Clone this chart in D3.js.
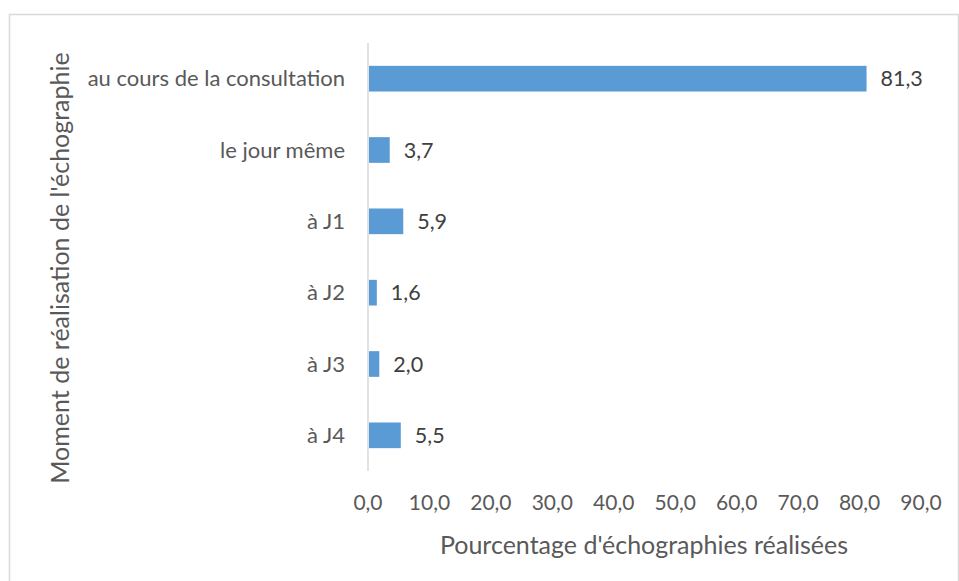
<!DOCTYPE html>
<html><head><meta charset="utf-8">
<script src="https://cdn.jsdelivr.net/npm/d3@7"></script>
<style>body{margin:0;background:#fff;} svg{display:block;font-family:Lato,"Open Sans",sans-serif;}</style>
</head><body>
<script>
const categories = ["au cours de la consultation","le jour même","à J1","à J2","à J3","à J4"];
const values = [81.3, 3.7, 5.9, 1.6, 2.0, 5.5];
const xTicks = [0,10,20,30,40,50,60,70,80,90];
const xTitle = "Pourcentage d'échographies réalisées";
const yTitle = "Moment de réalisation de l'échographie";

const W = 959, H = 581;
const svg = d3.select("body").append("svg").attr("width", W).attr("height", H);
svg.append("rect").attr("x",9.5).attr("y",14.5).attr("width",949).attr("height",620)
  .attr("fill","#fff").attr("stroke","#d9d9d9").attr("stroke-width",1.5);

const x = d3.scaleLinear().domain([0,90]).range([368,921]);
const y = d3.scaleBand().domain(categories).range([43,471]).paddingInner(0.64).paddingOuter(0.32);
const fmt = v => v.toFixed(1).replace(".", ",");

svg.append("line").attr("x1",368).attr("x2",368).attr("y1",43).attr("y2",471)
  .attr("stroke","#d9d9d9").attr("stroke-width",1.5);

svg.selectAll("rect.bar").data(values).join("rect").attr("class","bar")
  .attr("x", x(0)+1).attr("y",(d,i)=>y(categories[i]))
  .attr("width", d=>x(d)-x(0)-2).attr("height", y.bandwidth()).attr("fill","#5b9bd5");

svg.selectAll("text.val").data(values).join("text").attr("class","val")
  .attr("x", d=>x(d)+13).attr("y",(d,i)=>y(categories[i])+y.bandwidth()/2)
  .attr("dy","0.35em").attr("font-size",21.5).attr("fill","#404040").text(fmt);

svg.selectAll("text.cat").data(categories).join("text").attr("class","cat")
  .attr("x",345).attr("y",d=>y(d)+y.bandwidth()/2).attr("dy","0.35em")
  .attr("text-anchor","end").attr("font-size",22).attr("fill","#595959").text(d=>d);

svg.selectAll("text.tick").data(xTicks).join("text").attr("class","tick")
  .attr("x",d=>x(d)).attr("y",503).attr("dy","0.35em").attr("text-anchor","middle")
  .attr("font-size",21).attr("fill","#595959").text(fmt);

svg.append("text").attr("x",644).attr("y",545).attr("dy","0.35em").attr("text-anchor","middle")
  .attr("font-size",25).attr("fill","#595959").text(xTitle);

svg.append("text").attr("transform","translate(60,268) rotate(-90)").attr("dy","0.35em")
  .attr("text-anchor","middle").attr("font-size",25).attr("fill","#595959").text(yTitle);
</script>
</body></html>
